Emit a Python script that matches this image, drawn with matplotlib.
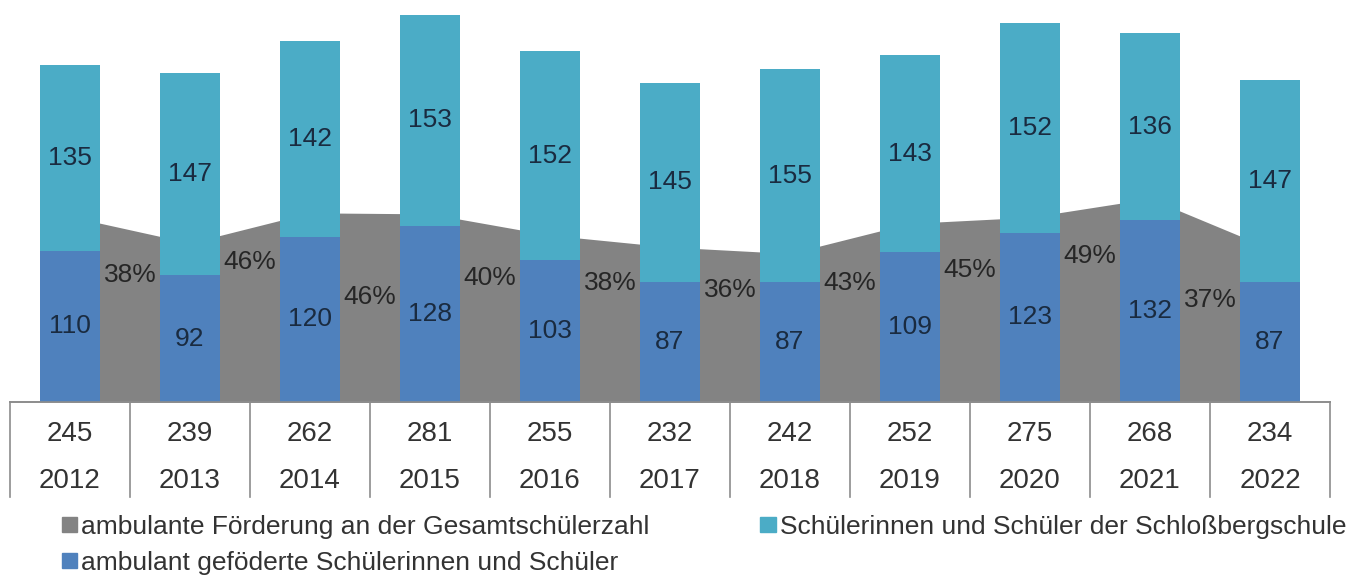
import matplotlib
matplotlib.use("Agg")
import matplotlib.pyplot as plt
from matplotlib.patches import Patch
from matplotlib.transforms import blended_transform_factory

plt.rcParams['font.family'] = ['Liberation Sans', 'DejaVu Sans']

# Daten
years = ['2012', '2013', '2014', '2015', '2016', '2017', '2018', '2019', '2020', '2021', '2022']
ambulant = [110, 92, 120, 128, 103, 87, 87, 109, 123, 132, 87]
schloss = [135, 147, 142, 153, 152, 145, 155, 143, 152, 136, 147]
totals = [245, 239, 262, 281, 255, 232, 242, 252, 275, 268, 234]
# Höhe der Prozent-Beschriftungen (in %)
pct_label_y = [30.7, 33.9, 25.4, 30.0, 28.8, 27.1, 28.8, 32.0, 35.4, 24.7]

pct = [a / t * 100 for a, t in zip(ambulant, totals)]
x = list(range(len(years)))

c_grey = '#838383'
c_blue = '#4f81bd'
c_cyan = '#4bacc6'
c_line = '#8c8c8c'

fig = plt.figure(figsize=(13.59, 5.78), dpi=100)
ax = fig.add_axes([10 / 1359, 176 / 578, 1320 / 1359, 413 / 578])
ax.fill_between(x, pct, 0, color=c_grey, lw=0)
ax.set_ylim(0, 100)
ax.set_xlim(-0.5, len(years) - 0.5)

ax2 = ax.twinx()
b1 = ax2.bar(x, ambulant, 0.5, color=c_blue)
b2 = ax2.bar(x, schloss, 0.5, bottom=ambulant, color=c_cyan)
ax2.bar_label(b1, label_type='center', fontsize=19, color='#1a2b40')
ax2.bar_label(b2, label_type='center', fontsize=19, color='#1a2b40')
ax2.set_ylim(0, 300)

for i in range(1, len(years)):
    ax.text(i - 0.5, pct_label_y[i - 1], f"{pct[i]:.0f}%", ha='center', va='center',
            fontsize=19, color='#262626', zorder=5)

for a in (ax, ax2):
    a.set_xticks([])
    a.set_yticks([])
    for s in ['top', 'left', 'right']:
        a.spines[s].set_visible(False)
    a.spines['bottom'].set_color(c_line)
    a.spines['bottom'].set_linewidth(1.2)

# Tabelle unter dem Diagramm
tr = blended_transform_factory(ax.transData, ax.transAxes)
for i in range(len(years)):
    ax.text(i, -0.077, str(totals[i]), transform=tr, ha='center', va='center',
            fontsize=20, color='#333333', clip_on=False)
    ax.text(i, -0.192, years[i], transform=tr, ha='center', va='center',
            fontsize=20, color='#333333', clip_on=False)
for i in range(len(years) + 1):
    ax.plot([i - 0.5, i - 0.5], [0, -0.23], transform=tr, color=c_line, lw=1.2, clip_on=False)

handles = [Patch(color=c_grey, label='ambulante Förderung an der Gesamtschülerzahl'),
           Patch(color=c_blue, label='ambulant geföderte Schülerinnen und Schüler'),
           Patch(color=c_cyan, label='Schülerinnen und Schüler der Schloßbergschule')]
fig.legend(handles=handles, ncol=2, loc='upper left', bbox_to_anchor=(62 / 1359, 1 - 515 / 578),
           frameon=False, fontsize=19, handlelength=0.58, handleheight=0.5,
           handletextpad=0.15, columnspacing=4.2, labelspacing=0.45, borderpad=0,
           borderaxespad=0, labelcolor='#333333')

fig.savefig('out.png', dpi=100)
